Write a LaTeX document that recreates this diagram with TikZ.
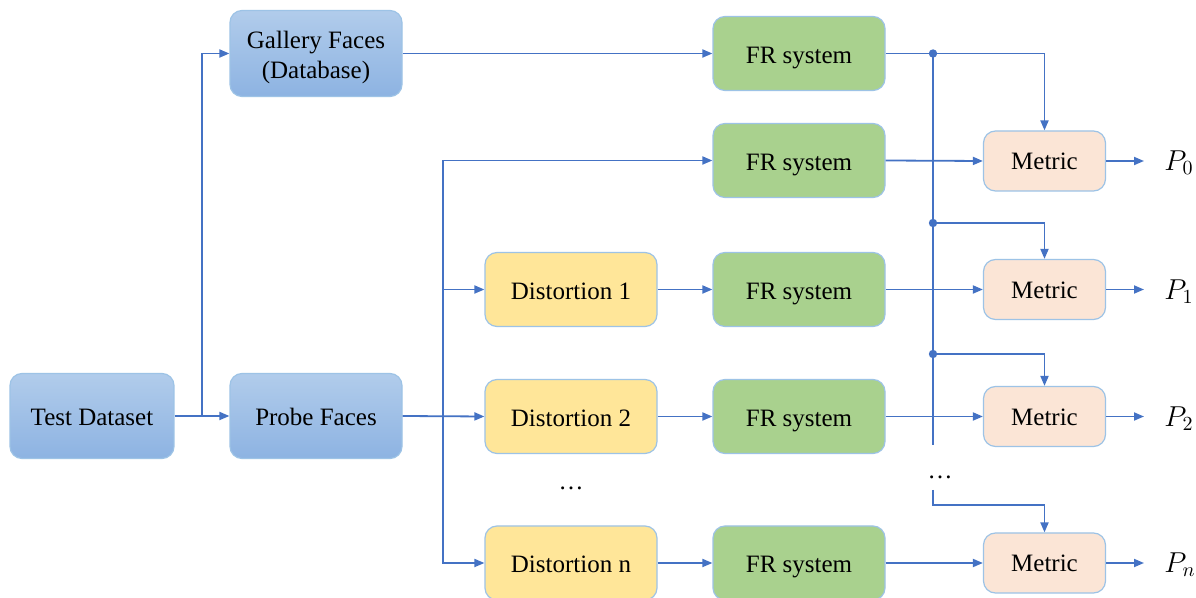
\documentclass[tikz,border=0pt]{standalone}
\usepackage{fontspec}
\setmainfont{Liberation Serif}
\usetikzlibrary{arrows.meta}
\definecolor{ln}{HTML}{4472C4}
\definecolor{bd}{HTML}{9DC3E6}
\definecolor{btop}{HTML}{B1CCEB}
\definecolor{bbot}{HTML}{8DB3E2}
\definecolor{gfill}{HTML}{A9D18E}
\definecolor{yfill}{HTML}{FFE699}
\definecolor{pfill}{HTML}{FBE5D6}
\tikzset{
  box/.style={rounded corners=6pt, draw=bd, line width=0.6pt, inner sep=0pt,
    text height=12pt, text depth=2pt,
    font=\rmfamily\fontsize{12.5}{15}\selectfont},
  bluebox/.style={box, top color=btop, bottom color=bbot, minimum width=86pt, minimum height=43pt},
  frbox/.style={box, fill=gfill, minimum width=86pt, minimum height=37pt},
  distbox/.style={box, fill=yfill, minimum width=86pt, minimum height=37pt},
  metbox/.style={box, fill=pfill, minimum width=61pt, minimum height=30pt, text height=11pt},
  ln/.style={draw=ln, line width=0.9pt},
  arr/.style={ln, -{Triangle[length=5pt,width=4pt]}},
  plab/.style={anchor=west, inner xsep=10pt, inner ysep=0pt, font=\fontsize{14}{16}\selectfont},
  dot/.style={circle, fill=ln, inner sep=0pt, minimum size=4.2pt},
  dots/.style={anchor=base, font=\rmfamily\fontsize{12.5}{15}\selectfont}
}
\begin{document}
\begin{tikzpicture}[x=0.5pt,y=-0.5pt]
\useasboundingbox (0,0) rectangle (1196,598);
\fill[white] (0,0) rectangle (1196,598);

% left column
\node[bluebox, minimum width=82pt, minimum height=42.5pt] (td) at (92,416) {Test Dataset};
\node[bluebox, text height=12.5pt] (gf) at (316,53.5) {\begin{tabular}{@{}c@{}}Gallery Faces\\(Database)\end{tabular}};
\node[bluebox, minimum height=42.5pt] (pf) at (316,416) {Probe Faces};

% distortions
\node[distbox] (d1) at (571,289.5) {Distortion 1};
\node[distbox] (d2) at (571,416.5) {Distortion 2};
\node[distbox] (dn) at (571,563) {Distortion n};
\node[dots] (dd1) at (571,490) {\dots};

% FR systems
\node[frbox] (fr0) at (799,53.5) {FR system};
\node[frbox] (fr1) at (799,160.5) {FR system};
\node[frbox] (fr2) at (799,289.5) {FR system};
\node[frbox] (fr3) at (799,416.5) {FR system};
\node[frbox] (frn) at (799,563) {FR system};

% metrics
\node[metbox] (m0) at (1044.5,161) {Metric};
\node[metbox] (m1) at (1044.5,289.5) {Metric};
\node[metbox] (m2) at (1044.5,416.5) {Metric};
\node[metbox] (mn) at (1044.5,563) {Metric};

% outputs
\node[plab] (p0) at (1144,163) {$P_0$};
\node[plab] (p1) at (1144,291.5) {$P_1$};
\node[plab] (p2) at (1144,418.5) {$P_2$};
\node[plab] (pn) at (1144,565) {$P_n$};

% left connectors
\coordinate (j1) at (202,416);
\draw[arr] (td.east) -- (pf.west);
\draw[arr] (j1) |- (gf.west);
\draw[arr] (gf.east) -- (fr0.west);

\coordinate (bl) at (443,416);
\draw[arr] (pf.east) -- (d2.west);
\draw[arr] (bl) |- (fr1.west);
\draw[arr] (bl) |- (dn.west);
\draw[arr] (bl |- d1.west) -- (d1.west);

% distortion -> FR
\draw[arr] (d1.east) -- (fr2.west);
\draw[arr] (d2.east) -- (fr3.west);
\draw[arr] (dn.east) -- (frn.west);

% FR -> metric
\draw[arr] (fr1.east) -- (m0.west);
\draw[arr] (fr2.east) -- (m1.west);
\draw[arr] (fr3.east) -- (m2.west);
\draw[arr] (frn.east) -- (mn.west);

% gallery bus
\coordinate (k0) at (933,53.5);
\coordinate (k1) at (933,223);
\coordinate (k2) at (933,354);
\coordinate (ke) at (933,445);
\coordinate (k3) at (933,490);
\coordinate (k4) at (933,505);
\draw[arr] (fr0.east) -| (m0.north);
\draw[ln] (k0) -- (ke);
\draw[arr] (k1) -| (m1.north);
\draw[arr] (k2) -| (m2.north);
\draw[arr] (k3) -- (k4) -| (mn.north);
\node[dot] at (k0) {};
\node[dot] at (k1) {};
\node[dot] at (k2) {};
\node[dots] (dd2) at (940,479) {\dots};

% metric -> P
\draw[arr] (m0.east) -- (m0.east -| p0.west);
\draw[arr] (m1.east) -- (m1.east -| p1.west);
\draw[arr] (m2.east) -- (m2.east -| p2.west);
\draw[arr] (mn.east) -- (mn.east -| pn.west);
\end{tikzpicture}
\end{document}
